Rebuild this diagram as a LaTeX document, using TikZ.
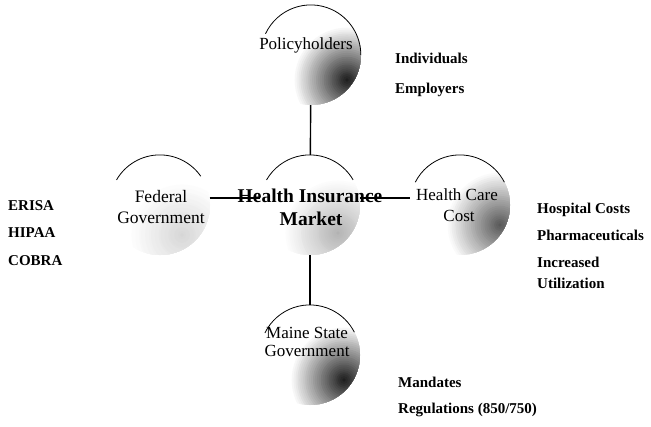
\documentclass[tikz,border=0pt]{standalone}
\usepackage{fontspec}
\setmainfont{Liberation Serif}
\begin{document}
\begin{tikzpicture}[x=1pt,y=1pt]
\tikzset{
  sph/.style n args={3}{circle, minimum size=100pt, inner sep=0pt,
    path picture={
      \foreach \k in {1,...,32} {
        \pgfmathsetmacro\rr{62*(1-(\k-1)/32)}
        \pgfmathtruncatemacro\cc{#3*max(0,\k-5)/27}
        \fill[black!\cc] ([shift={#2}]path picture bounding box.center) circle (\rr pt);
      }
    }},
  toparc/.style={line width=0.8pt, black},
  conn/.style={line width=1.4pt, black},
  lbl/.style={anchor=base, inner sep=0pt, font=\fontsize{17}{20}\selectfont},
  side/.style={anchor=base west, inner sep=0pt, font=\bfseries\fontsize{15}{18}\selectfont}
}
\useasboundingbox (0,-426) rectangle (651,0);
% spheres
\node[sph={dkA}{(36pt,-25pt)}{88}] (pol) at (311,-55) {};
\node[sph={dkC}{(28pt,-28pt)}{30}] (hin) at (310,-205) {};
\node[sph={dkD}{(22pt,-30pt)}{16}] (fed) at (160,-205) {};
\node[sph={dkB}{(40pt,-20pt)}{65}] (hcc) at (460,-205) {};
\node[sph={dkA}{(34pt,-25pt)}{88}] (mai) at (310,-355) {};
% top arcs
\draw[toparc] (pol.155) arc[start angle=155, end angle=0, radius=50pt];
\draw[toparc] (hin.150) arc[start angle=150, end angle=30, radius=50pt];
\draw[toparc] (fed.150) arc[start angle=150, end angle=35, radius=50pt];
\draw[toparc] (hcc.153) arc[start angle=153, end angle=27, radius=50pt];
\draw[toparc] (mai.154) arc[start angle=154, end angle=27, radius=50pt];
% connectors
\draw[conn] (pol) -- (hin);
\draw[conn] (fed.8) -- (hin.172);
\draw[conn] (hin.8) -- (hcc.172);
\draw[conn] (hin) -- (mai);
% sphere labels
\node[lbl] (tpol) at (306,-49) {Policyholders};
\node[lbl, font=\bfseries\fontsize{19.5}{22}\selectfont] (thin1) at (310,-202) {Health Insurance};
\node[lbl, font=\bfseries\fontsize{19.5}{22}\selectfont] (thin2) at (311,-225) {Market};
\node[lbl, font=\fontsize{17.5}{20}\selectfont] (tfed1) at (161,-202) {Federal};
\node[lbl, font=\fontsize{17.5}{20}\selectfont] (tfed2) at (161,-223) {Government};
\node[lbl] (thcc1) at (457,-200) {Health Care};
\node[lbl] (thcc2) at (459,-221) {Cost};
\node[lbl] (tmai1) at (307,-338) {Maine State};
\node[lbl] (tmai2) at (307,-356) {Government};
% side lists
\node[side] (ind) at (395,-63) {Individuals};
\node[side] (emp) at (395,-93) {Employers};
\node[side] (eri) at (8,-210) {ERISA};
\node[side] (hip) at (8,-237) {HIPAA};
\node[side] (cob) at (8,-265) {COBRA};
\node[side] (hos) at (537,-213) {Hospital Costs};
\node[side] (pha) at (537,-240) {Pharmaceuticals};
\node[side] (inc) at (537,-267) {Increased};
\node[side] (uti) at (537,-288) {Utilization};
\node[side] (man) at (398,-387) {Mandates};
\node[side] (reg) at (398,-413) {Regulations (850/750)};
\end{tikzpicture}
\end{document}
